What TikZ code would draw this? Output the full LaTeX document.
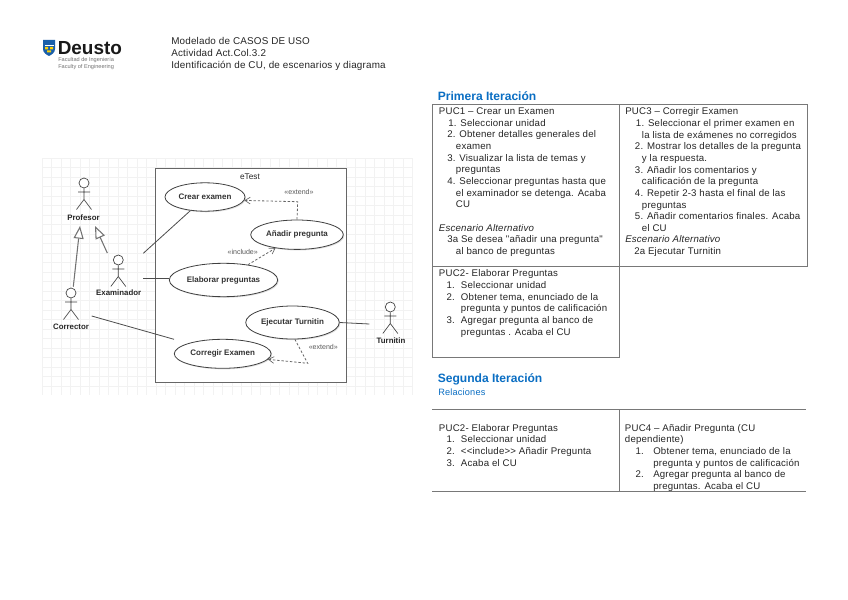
\documentclass[tikz,border=0pt]{standalone}
\usepackage{fontspec}
\setmainfont{Liberation Sans}
\newfontfamily\cellfont[LetterSpace=2]{Liberation Sans}
\usetikzlibrary{arrows.meta,shapes.geometric,shadows}
\newlength\pxu
\setlength\pxu{.75pt}
\newcommand\ind[1]{\hspace*{#1\pxu}}
\definecolor{gridc}{RGB}{242,242,242}
\definecolor{headblue}{RGB}{10,110,195}
\definecolor{linec}{RGB}{120,120,120}
\definecolor{logoblue}{RGB}{25,95,170}
\tikzset{
  txt/.style={anchor=north west,inner sep=0pt,align=left,text=black!85,
    font=\cellfont\fontsize{7.25}{8.74}\selectfont,execute at begin node=\strut},
  hdr/.style={txt,font=\cellfont\fontsize{7.4}{8.74}\selectfont},
  head/.style={anchor=west,inner sep=0pt,text=headblue,font=\bfseries\fontsize{9.05}{11}\selectfont},
  rel/.style={anchor=west,inner sep=0pt,text=headblue,font=\cellfont\fontsize{6.9}{8}\selectfont},
  cellline/.style={draw=linec,line width=.7pt},
  ue/.style={draw=black!75,fill=white,ellipse,inner sep=0pt,line width=.6pt,
    drop shadow={shadow xshift=.8pt,shadow yshift=-.8pt,opacity=.25}},
  uetext/.style={font=\bfseries\fontsize{6}{7}\selectfont,text=black!80},
  actorlabel/.style={inner sep=0pt,font=\bfseries\fontsize{5.9}{7}\selectfont,text=black!85},
  actorline/.style={draw=black!75,line width=.5pt},
  assoc/.style={draw=black!70,line width=.6pt},
  gener/.style={draw=black!55,line width=.8pt,-{Triangle[open,length=9.5pt,width=7.5pt,fill=white]}},
  depend/.style={draw=black!60,line width=.6pt,dash pattern=on 1.8pt off 1.4pt},
  dephead/.style={depend,-{Straight Barb[length=4pt,width=5pt,line width=.5pt]}},
  stereo/.style={inner sep=0pt,font=\fontsize{5.3}{6}\selectfont,text=black!65},
}
\newcommand\actor[4]{% name, x, y of head centre, head diameter
  \node[circle,draw=black!75,line width=.5pt,fill=white,inner sep=0pt,minimum size=#4\pxu] (#1) at (#2,#3) {};
  \begin{scope}[shift={(#2,#3)}]
    \draw[actorline] (#1.south) -- (0,16.5) (-6,9) -- (6,9) (-7.5,26.5) -- (0,16.5) -- (7.5,26.5);
  \end{scope}}
\begin{document}
\begin{tikzpicture}[x=.75pt,y=-.75pt]
\useasboundingbox (0,0) rectangle (848,599);
\fill[white] (0,0) rectangle (848,599);

% --- logo
\path[fill=logoblue] (43,40) -- (55,40) -- (55,49) .. controls (55,53) and (51,55) .. (49,56) .. controls (47,55) and (43,53) .. (43,49) -- cycle;
\path[fill=white] (44.5,45.5) rectangle (53.5,46.3);
\path[fill=yellow!70!orange] (45,47) rectangle (48,49.5) (50,47) rectangle (53,49.5) (47,50.5) rectangle (51,52.5);
\node[anchor=west,inner sep=0pt,text=black!90,font=\bfseries\fontsize{14.2}{16}\selectfont] (deusto) at (57.5,48) {Deusto};
\node[anchor=north west,inner sep=0pt,align=left,text=black!55,font=\fontsize{4.2}{3.9}\selectfont] (faculty) at (58,57.5) {Facultad de Ingeniería\\Faculty of Engineering};

% --- header
\node[hdr] (hdrtext) at (171,37.5) {Modelado de CASOS DE USO\\Actividad Act.Col.3.2\\Identificación de CU, de escenarios y diagrama};

% --- UML grid
\foreach \gx in {0,...,39} {\draw[gridc,line width=.5pt] (42+9.5*\gx,158) -- (42+9.5*\gx,395);}
\foreach \gy in {0,...,24} {\draw[gridc,line width=.5pt] (42,158+9.5*\gy) -- (412,158+9.5*\gy);}

% --- system boundary
\node[draw=black!60,fill=white,line width=.7pt,inner sep=0pt,anchor=north west,minimum width=190.4\pxu,minimum height=213.4\pxu,
  drop shadow={shadow xshift=.8pt,shadow yshift=-.8pt,opacity=.25}] (system) at (155.3,168.3) {};
\node[inner sep=0pt,font=\fontsize{6.2}{7}\selectfont,text=black!85] (etest) at (250,176.5) {eTest};

% --- use cases
\node[ue,uetext,minimum width=80\pxu,minimum height=28.4\pxu] (crear) at (205,197) {Crear examen};
\node[ue,uetext,minimum width=92.6\pxu,minimum height=29.4\pxu] (anadir) at (297,234.7) {Añadir pregunta};
\node[ue,uetext,minimum width=108.4\pxu,minimum height=33.4\pxu] (elaborar) at (223.5,280) {Elaborar preguntas};
\node[ue,uetext,minimum width=93.6\pxu,minimum height=33\pxu] (ejecutar) at (292.5,322.5) {Ejecutar Turnitin};
\node[ue,uetext,minimum width=96.8\pxu,minimum height=29\pxu] (corregir) at (222.7,353.8) {Corregir Examen};

% --- actors
\actor{profesor}{84}{183}{10}
\node[actorlabel] (profesorlabel) at (83.5,217.5) {Profesor};
\actor{examinador}{118.3}{260}{10}
\node[actorlabel] (examinadorlabel) at (118.7,293) {Examinador};
\actor{corrector}{71}{293}{10}
\node[actorlabel] (correctorlabel) at (71,326.7) {Corrector};
\actor{turnitin}{390.3}{307}{10}
\node[actorlabel] (turnitinlabel) at (391,341) {Turnitin};

% --- free ends
\coordinate (gA0) at (73.3,286.7);
\coordinate (gA1) at (80,226);
\coordinate (gB0) at (107.3,253);
\coordinate (gB1) at (95,226);
\coordinate (aA) at (143.3,253.3);
\coordinate (aB) at (143.3,278);
\coordinate (aC) at (91.7,316);
\coordinate (aC1) at (174,339.3);
\coordinate (aD) at (369.3,324);
\coordinate (kneeA) at (297.7,201.7);
\coordinate (kneeB) at (307.7,363.3);

% --- connectors
\draw[gener] (gA0) -- (gA1);
\draw[gener] (gB0) -- (gB1);
\draw[assoc] (aA) -- (crear.223);
\draw[assoc] (aB) -- (aB -| elaborar.west);
\draw[assoc] (aC) -- (aC1);
\draw[assoc] (ejecutar.east) -- (aD);
\draw[dephead] (anadir.north) -- (kneeA) -- (crear.-5);
\draw[dephead] (elaborar.32) -- (anadir.212);
\draw[dephead] (ejecutar.-82) -- (kneeB) -- (corregir.-7);
\node[stereo] (st1) at (299,192) {«extend»};
\node[stereo] (st2) at (242.7,252) {«include»};
\node[stereo] (st3) at (323.3,347.3) {«extend»};

% --- headings
\node[head] (h1) at (437.5,96.5) {Primera Iteración};
\node[head] (h2) at (437.5,379.5) {Segunda Iteración};
\node[rel] (h3) at (438,392.5) {Relaciones};

% --- first table
\coordinate (t1a) at (432,104);
\coordinate (t1b) at (619,104);
\coordinate (t1c) at (807,104);
\coordinate (t1d) at (432,266);
\coordinate (t1e) at (619,266);
\coordinate (t1f) at (807,266);
\coordinate (t1g) at (432,357.5);
\coordinate (t1h) at (619,357.5);
\draw[cellline] (t1a) -- (t1c) -- (t1f) -- (t1d) -- cycle;
\draw[cellline] (t1d) -- (t1g) -- (t1h) -- (t1b);

\node[txt] (puc1) at (438.7,107.5) {PUC1 – Crear un Examen\\
\ind{9.3}1. Seleccionar unidad\\
\ind{8.3}2. Obtener detalles generales del\\
\ind{17}examen\\
\ind{8.3}3. Visualizar la lista de temas y\\
\ind{17}preguntas\\
\ind{8.3}4. Seleccionar preguntas hasta que\\
\ind{17}el examinador se detenga. Acaba\\
\ind{17}CU\\
\strut\\
{\itshape Escenario Alternativo}\\
\ind{8.3}3a Se desea "añadir una pregunta"\\
\ind{17}al banco de preguntas};

\node[txt] (puc3) at (625,107.5) {PUC3 – Corregir Examen\\
\ind{10.7}1. Seleccionar el primer examen en\\
\ind{16.7}la lista de exámenes no corregidos\\
\ind{9.7}2. Mostrar los detalles de la pregunta\\
\ind{16.7}y la respuesta.\\
\ind{9.7}3. Añadir los comentarios y\\
\ind{16.7}calificación de la pregunta\\
\ind{9.7}4. Repetir 2-3 hasta el final de las\\
\ind{16.7}preguntas\\
\ind{9.7}5. Añadir comentarios finales. Acaba\\
\ind{16.7}el CU\\
{\itshape Escenario Alternativo}\\
\ind{9}2a Ejecutar Turnitin};

\node[txt] (puc2) at (438.7,269.5) {PUC2- Elaborar Preguntas\\
\ind{7.6}\makebox[14.4\pxu][l]{1.}Seleccionar unidad\\
\ind{7.6}\makebox[14.4\pxu][l]{2.}Obtener tema, enunciado de la\\
\ind{22}pregunta y puntos de calificación\\
\ind{7.6}\makebox[14.4\pxu][l]{3.}Agregar pregunta al banco de\\
\ind{22}preguntas . Acaba el CU};

% --- second table
\coordinate (t2a) at (432,409.5);
\coordinate (t2b) at (619,409.5);
\coordinate (t2c) at (806,409.5);
\coordinate (t2d) at (432,491.7);
\coordinate (t2e) at (619,491.7);
\coordinate (t2f) at (806,491.7);
\draw[cellline] (t2a) -- (t2c) (t2d) -- (t2f) (t2b) -- (t2e);

\node[txt] (puc2b) at (438.7,424) {PUC2- Elaborar Preguntas\\
\ind{7.6}\makebox[14.4\pxu][l]{1.}Seleccionar unidad\\
\ind{7.6}\makebox[14.4\pxu][l]{2.}<{}<include>{}> Añadir Pregunta\\
\ind{7.6}\makebox[14.4\pxu][l]{3.}Acaba el CU};

\node[txt] (puc4) at (624.7,424) {PUC4 – Añadir Pregunta (CU\\
dependiente)\\
\ind{10.6}\makebox[17.7\pxu][l]{1.}Obtener tema, enunciado de la\\
\ind{28.3}pregunta y puntos de calificación\\
\ind{10.6}\makebox[17.7\pxu][l]{2.}Agregar pregunta al banco de\\
\ind{28.3}preguntas. Acaba el CU};
\end{tikzpicture}
\end{document}
